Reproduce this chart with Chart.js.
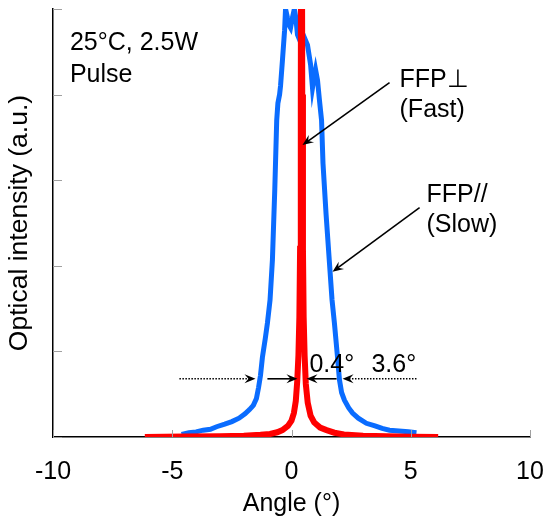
<!DOCTYPE html>
<html>
<head>
<meta charset="utf-8">
<script src="https://cdn.jsdelivr.net/npm/chart.js@4.4.1/dist/chart.umd.min.js"></script>
<style>
  html, body { margin: 0; padding: 0; background: #fff; }
  canvas { display: block; }
</style>
</head>
<body>
<canvas id="ffp" width="553" height="519"></canvas>
<script>
// FFP perpendicular (fast axis), red
const fastAngle = [-6.15, -4.5, -3, -2, -1.3, -0.9, -0.6, -0.38, -0.15, 0.0, 0.1, 0.18, 0.24, 0.29, 0.33, 0.36, 0.39, 0.42,
                   0.45, 0.48, 0.51, 0.55, 0.6, 0.68, 0.8, 0.95, 1.2, 1.47, 1.8, 2.2, 3, 4, 5, 6.15];
const fastValue = [0.0, 0.005, 0.01, 0.015, 0.025, 0.035, 0.055, 0.08, 0.13, 0.19, 0.28, 0.42, 0.65, 0.95, 1.4, 2.2, 4.0, 9.0,
                   4.0, 2.2, 1.4, 0.95, 0.62, 0.40, 0.25, 0.17, 0.11, 0.08, 0.05, 0.03, 0.015, 0.008, 0.004, 0.0];

// FFP parallel (slow axis), blue
const slowAngle = [-4.61, -4.3, -4.0, -3.7, -3.4, -3.14, -2.8, -2.5, -2.2, -1.95, -1.76, -1.6, -1.47, -1.38, -1.3, -1.22,
                   -1.1, -1.01, -0.9, -0.8, -0.7, -0.62, -0.57, -0.5, -0.46, -0.38, -0.29, -0.25, -0.17, -0.08, -0.04,
                   0.04, 0.12, 0.18, 0.25, 0.4, 0.55, 0.67, 0.8, 0.88, 0.95, 1.01, 1.09, 1.17, 1.26, 1.32, 1.45, 1.6,
                   1.7, 1.80, 1.93, 2.01, 2.1, 2.22, 2.4, 2.56, 2.8, 3.14, 3.5, 3.8, 4.11, 4.5, 4.9, 5.24];
const slowValue = [0.03, 0.05, 0.06, 0.08, 0.09, 0.12, 0.15, 0.18, 0.22, 0.27, 0.32, 0.37, 0.45, 0.58, 0.72, 0.93,
                   1.15, 1.33, 1.6, 2.07, 2.9, 3.7, 3.9, 4.0, 4.1, 4.4, 4.75, 5.0, 4.9, 4.8, 4.78,
                   4.9, 5.0, 4.9, 4.7, 4.6, 4.66, 4.58, 4.35, 4.08, 4.2, 4.29, 4.17, 3.94, 3.7, 3.2, 2.6, 2.0,
                   1.6, 1.33, 0.93, 0.67, 0.52, 0.43, 0.34, 0.28, 0.22, 0.16, 0.13, 0.10, 0.08, 0.07, 0.06, 0.05];

const xTicks = [-10, -5, 0, 5, 10];
const yTicks = [0, 1, 2, 3, 4, 5];

const FONT = "'Liberation Sans', Arial, sans-serif";

function pts(xs, ys) {
    return xs.map((x, i) => ({ x: x, y: ys[i] }));
}

// text labels and arrows, in data units
const notes = [
    { text: '25°C, 2.5W', x: -9.29, y: 4.52 },
    { text: 'Pulse', x: -9.29, y: 4.15 },
    { text: 'FFP⊥', x: 4.53, y: 4.09 },
    { text: '(Fast)', x: 4.53, y: 3.74 },
    { text: 'FFP//', x: 5.66, y: 2.75 },
    { text: '(Slow)', x: 5.66, y: 2.39 },
    { text: '0.4°', x: 0.75, y: 0.76 },
    { text: '3.6°', x: 3.35, y: 0.76 }
];
const arrows = [
    { x1: 4.11, y1: 4.14, x2: 0.46, y2: 3.41, dotted: false },
    { x1: 5.37, y1: 2.68, x2: 1.72, y2: 1.93, dotted: false },
    { x1: -4.70, y1: 0.68, x2: -1.51, y2: 0.68, dotted: true },
    { x1: -1.01, y1: 0.68, x2: 0.25, y2: 0.68, dotted: false },
    { x1: 1.89, y1: 0.68, x2: 0.63, y2: 0.68, dotted: false },
    { x1: 5.24, y1: 0.68, x2: 2.14, y2: 0.68, dotted: true }
];

function drawHead(c, x, y, ang) {
    const L = 11, W = 4.5, back = 7;
    c.save();
    c.translate(x, y);
    c.rotate(ang);
    c.beginPath();
    c.moveTo(0, 0);
    c.lineTo(-L, -W);
    c.lineTo(-back, 0);
    c.lineTo(-L, W);
    c.closePath();
    c.fill();
    c.restore();
}

const extras = {
    id: 'extras',
    afterDatasetsDraw(chart) {
        const c = chart.ctx;
        const sx = chart.scales.x, sy = chart.scales.y;
        const area = chart.chartArea;
        c.save();
        // inward tick marks
        c.strokeStyle = '#a0a0a0';
        c.lineWidth = 1;
        yTicks.forEach(v => {
            const py = Math.round(sy.getPixelForValue(v)) + 0.5;
            c.beginPath();
            c.moveTo(area.left, py);
            c.lineTo(area.left + 9, py);
            c.stroke();
        });
        xTicks.forEach(v => {
            const px = Math.round(sx.getPixelForValue(v)) + 0.5;
            c.beginPath();
            c.moveTo(px, area.bottom);
            c.lineTo(px, area.bottom - 7);
            c.stroke();
        });

        c.fillStyle = '#000';
        c.font = '25px ' + FONT;
        c.textBaseline = 'alphabetic';
        c.textAlign = 'left';
        notes.forEach(n => {
            c.fillText(n.text, sx.getPixelForValue(n.x), sy.getPixelForValue(n.y));
        });

        c.strokeStyle = '#000';
        arrows.forEach(a => {
            const x1 = sx.getPixelForValue(a.x1), y1 = sy.getPixelForValue(a.y1);
            const x2 = sx.getPixelForValue(a.x2), y2 = sy.getPixelForValue(a.y2);
            const ang = Math.atan2(y2 - y1, x2 - x1);
            c.lineWidth = a.dotted ? 1.5 : 1.6;
            c.setLineDash(a.dotted ? [1.5, 1.5] : []);
            c.beginPath();
            c.moveTo(x1, y1);
            c.lineTo(x2 - 6 * Math.cos(ang), y2 - 6 * Math.sin(ang));
            c.stroke();
            c.setLineDash([]);
            drawHead(c, x2, y2, ang);
        });
        c.restore();
    }
};

new Chart(document.getElementById('ffp'), {
    type: 'scatter',
    data: {
        datasets: [
            {
                label: 'FFP⊥ (Fast)',
                data: pts(fastAngle, fastValue),
                showLine: true,
                borderColor: '#ff0000',
                borderWidth: 6,
                pointRadius: 0,
                tension: 0
            },
            {
                label: 'FFP// (Slow)',
                data: pts(slowAngle, slowValue),
                showLine: true,
                borderColor: '#0a6cff',
                borderWidth: 5,
                pointRadius: 0,
                tension: 0
            }
        ]
    },
    options: {
        responsive: false,
        animation: false,
        layout: {
            padding: { top: 9, right: 23, left: 0, bottom: 0 }
        },
        plugins: {
            legend: { display: false },
            tooltip: { enabled: false }
        },
        scales: {
            x: {
                type: 'linear',
                min: -10,
                max: 10,
                afterBuildTicks: (s) => { s.ticks = xTicks.map(v => ({ value: v })); },
                ticks: {
                    color: '#000',
                    padding: 20,
                    maxRotation: 0,
                    font: { size: 25, family: FONT }
                },
                grid: { display: false, drawTicks: false },
                border: { display: true, color: '#000', width: 1.5 },
                title: {
                    display: true,
                    text: 'Angle (°)',
                    color: '#000',
                    padding: { top: 0, bottom: 0 },
                    font: { size: 25, family: FONT }
                },
                afterFit: (s) => { s.height = 82; s.paddingLeft = 0; s.paddingRight = 0; }
            },
            y: {
                type: 'linear',
                min: 0,
                max: 5,
                ticks: { display: false, stepSize: 1 },
                grid: { display: false, drawTicks: false },
                border: { display: true, color: '#000', width: 1.5 },
                title: {
                    display: true,
                    text: 'Optical intensity (a.u.)',
                    color: '#000',
                    padding: { top: 4, bottom: 0 },
                    font: { size: 26.5, family: FONT }
                },
                afterFit: (s) => { s.width = 53; }
            }
        }
    },
    plugins: [extras]
});
</script>
</body>
</html>
